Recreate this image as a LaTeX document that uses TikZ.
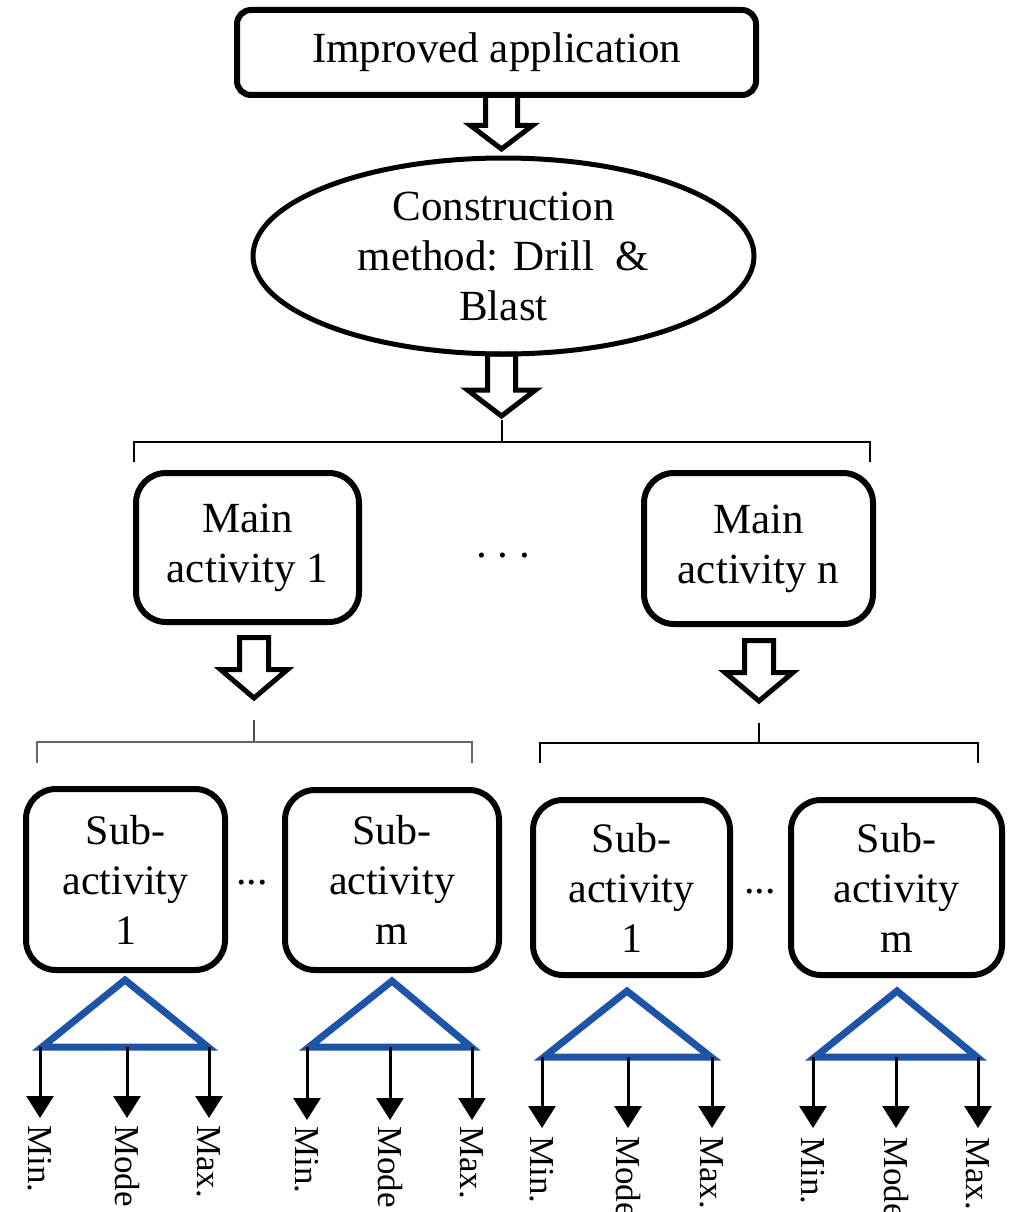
\documentclass[tikz,border=0pt]{standalone}
\usepackage{fontspec}
\setmainfont{Liberation Serif}
\usetikzlibrary{arrows.meta,shapes.geometric}
\definecolor{triblue}{RGB}{30,84,165}
\begin{document}
\begin{tikzpicture}[x=1pt,y=-1pt,
  bigfont/.style={font=\fontsize{43}{50}\selectfont},
  subfont/.style={font=\fontsize{42}{50}\selectfont},
  box/.style={draw,line width=6pt,rounded corners=30pt,inner sep=0pt,align=center,bigfont},
  subbox/.style={box,subfont},
  blk/.style={draw,line width=5pt,line join=miter},
  brace/.style={draw,line width=2pt},
  tri/.style={draw=triblue,line width=7pt,line join=miter},
  leaf/.style={draw,line width=3pt,-{Triangle[width=27pt,length=22pt]}},
  lbl/.style={rotate=-90,anchor=west,inner sep=0pt,font=\fontsize{35}{40}\selectfont}]
\useasboundingbox (0,0) rectangle (1015,1212);
\clip (0,0) rectangle (1015,1212);

% nodes
\node[box,rounded corners=14pt,minimum width=519pt,minimum height=85pt] (top) at (496.5,52.5) {Improved application};
\node[draw,ellipse,line width=5pt,inner sep=0pt,minimum width=501pt,minimum height=196pt,align=center,bigfont] (ell) at (503.5,256) {Construction\\method: Drill\ \ \&\\Blast};
\node[box,minimum width=223pt,minimum height=149pt] (m1) at (247.5,547.5) {Main\\activity 1};
\node[box,minimum width=229pt,minimum height=151pt] (mn) at (758.5,548.5) {Main\\activity n};
\node[bigfont,anchor=base] (mdots) at (503,557) {.\ .\ .};

\node[subbox,minimum width=199pt,minimum height=181pt] (s11) at (125.5,879.5) {Sub-\\activity\\1};
\node[subbox,minimum width=214pt,minimum height=180pt] (s1m) at (392,880) {Sub-\\activity\\m};
\node[subbox,minimum width=197pt,minimum height=175pt] (sn1) at (631.5,887.5) {Sub-\\activity\\1};
\node[subbox,minimum width=211pt,minimum height=175pt] (snm) at (896.5,887.5) {Sub-\\activity\\m};
\node[subfont,anchor=base] (d1) at (252,884) {...};
\node[subfont,anchor=base] (d2) at (760,893) {...};

% hollow block arrows
\newcommand\hollowarrow[6]{%
  \draw[blk] (#1-#5,#2) -- (#1-#5,#3) -- (#1-#6,#3) -- (#1,#4) -- (#1+#6,#3) -- (#1+#5,#3) -- (#1+#5,#2) -- cycle;}
\hollowarrow{501.5}{95}{125.5}{149}{16}{31}
\hollowarrow{501.5}{354}{390}{416}{14}{34}
\hollowarrow{254}{637.5}{669.5}{698}{14.5}{33.5}
\hollowarrow{759}{640.5}{672.5}{701}{14.5}{34}

% braces
\coordinate (b1t) at (501.5,420); \coordinate (b1c) at (501.5,442);
\coordinate (b1l) at (134,442); \coordinate (b1r) at (870,442);
\draw[brace] (b1t) -- (b1c);
\draw[brace] ([yshift=-20pt]b1l) -- (b1l) -- (b1r) -- ([yshift=-20pt]b1r);

\coordinate (b2t) at (254,720); \coordinate (b2c) at (254,742);
\coordinate (b2l) at (37,742); \coordinate (b2r) at (472,742);
\draw[brace,draw=black!70,line width=2.6pt] (b2t) -- (b2c);
\draw[brace,draw=black!60,line width=2.6pt] ([yshift=-21pt]b2l) -- (b2l) -- (b2r) -- ([yshift=-21pt]b2r);

\coordinate (b3t) at (759,723); \coordinate (b3c) at (759,743);
\coordinate (b3l) at (540,743); \coordinate (b3r) at (978,743);
\draw[brace] (b3t) -- (b3c);
\draw[brace] ([yshift=-20pt]b3l) -- (b3l) -- (b3r) -- ([yshift=-20pt]b3r);

% triangles with estimates
\newcommand\estim[8]{% apex x, apex y, left x, mid x, right x, base y, tip y, label y
  \draw[tri] (#1,#2) -- (#3,#6) -- (#5,#6) -- cycle;
  \draw[leaf] (#3-2,#6) -- (#3-2,#7);
  \draw[leaf] (#4,#6) -- (#4,#7);
  \draw[leaf] (#5+1,#6) -- (#5+1,#7);
  \node[lbl] at (#3-2,#8) {Min.};
  \node[lbl] at (#4,#8) {Mode};
  \node[lbl] at (#5+1,#8) {Max.};}
\estim{125}{980}{42}{127}{208}{1047}{1118}{1125}
\estim{392}{981}{309}{390}{471}{1047}{1120}{1126}
\estim{627}{991}{544}{628}{711}{1057}{1128}{1136}
\estim{897}{991}{815}{896}{977}{1057}{1128}{1137}
\end{tikzpicture}
\end{document}
